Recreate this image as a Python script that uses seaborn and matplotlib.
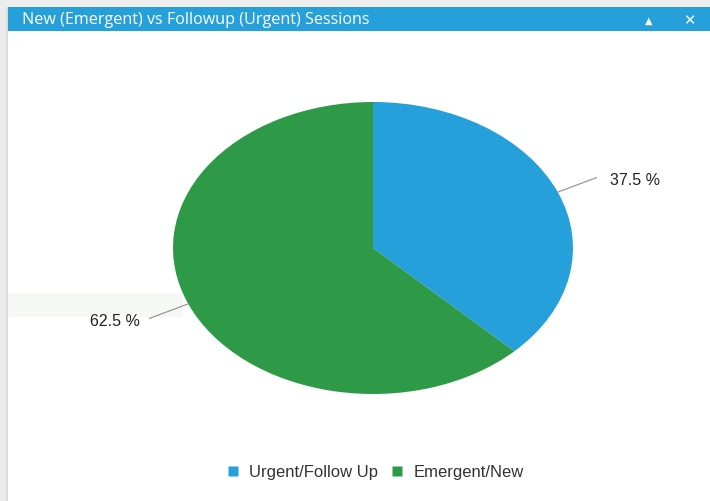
import numpy as np
import matplotlib
matplotlib.use("Agg")
import matplotlib.pyplot as plt
from matplotlib.patches import Rectangle
import seaborn as sns

# ---- data ----
categories = ["Urgent/Follow Up", "Emergent/New"]
values = [37.5, 62.5]
colors = ["#26A0DA", "#2E9A47"]
title = "New (Emergent) vs Followup (Urgent) Sessions"

sns.set_theme(style="white")
plt.rcParams['font.family'] = ['Liberation Sans', 'DejaVu Sans']

W, H = 710, 502
fig = plt.figure(figsize=(W / 100, H / 100), dpi=100)
fig.patch.set_facecolor("white")

def px(x0, y0, w, h):
    return (x0 / W, 1 - (y0 + h) / H, w / W, h / H)

# outer frame
for (x0, y0, w, h, c) in [(0, 0, W, 8, "#efefef"), (0, 0, 7, H, "#ececec"),
                          (6, 8, 2, H - 8, "#dcdcdc"), (8, 294, 175, 24, "#f6f8f6")]:
    l, b, ww, hh = px(x0, y0, w, h)
    fig.patches.append(Rectangle((l, b), ww, hh, transform=fig.transFigure,
                                 facecolor=c, edgecolor="none", zorder=-1))
# header bar
l, b, ww, hh = px(8, 8, W - 8, 24)
fig.patches.append(Rectangle((l, b), ww, hh, transform=fig.transFigure,
                             facecolor="#26A0DA", edgecolor="none", zorder=1))
fig.text(22 / W, 1 - 20 / H, title, color="white", fontsize=11.6,
         family=['Open Sans', 'DejaVu Sans'], va="center", ha="left", zorder=2)
fig.text(649 / W, 1 - 21 / H, "\u25B2", color="white", fontsize=7, va="center", ha="center",
         family=['DejaVu Sans'], zorder=2)
fig.text(689 / W, 1 - 21 / H, "\u2715", color="white", fontsize=10.5, va="center", ha="center",
         fontweight="bold", family=['DejaVu Sans'], zorder=2)

# pie axes (elliptical pie)
ax = fig.add_axes(px(173, 103, 400, 292))
wedges, _ = ax.pie(values, colors=colors, startangle=90, counterclock=False,
                   wedgeprops=dict(linewidth=0))
ax.set_aspect("auto")
ax.set_xlim(-1, 1)
ax.set_ylim(-1, 1)
ax.axis("off")

# leader labels
for w, v in zip(wedges, values):
    ang = np.deg2rad((w.theta1 + w.theta2) / 2)
    cx, cy = np.cos(ang), np.sin(ang)
    x1, y1 = cx * 1.21, cy * 1.26
    ha = "left" if cx > 0 else "right"
    tx = x1 + (0.065 if cx > 0 else -0.05)
    ax.plot([cx * 1.0, x1], [cy * 1.0, y1], color="#999999", lw=0.9,
            clip_on=False)
    ax.text(tx, y1 - 0.015, f"{v} %", ha=ha, va="center", fontsize=11.5,
            color="#222222")

# legend
handles = [plt.Line2D([0], [0], marker="s", color="none", markerfacecolor=c,
                      markeredgecolor="none", markersize=7) for c in colors]
fig.legend(handles, categories, loc="center", bbox_to_anchor=(374 / W, 1 - 473 / H),
           ncol=2, frameon=False, fontsize=12, handlelength=1.0,
           handletextpad=0.5, columnspacing=0.6, labelcolor="#333333")

fig.savefig("out.png", dpi=100, facecolor="white")
